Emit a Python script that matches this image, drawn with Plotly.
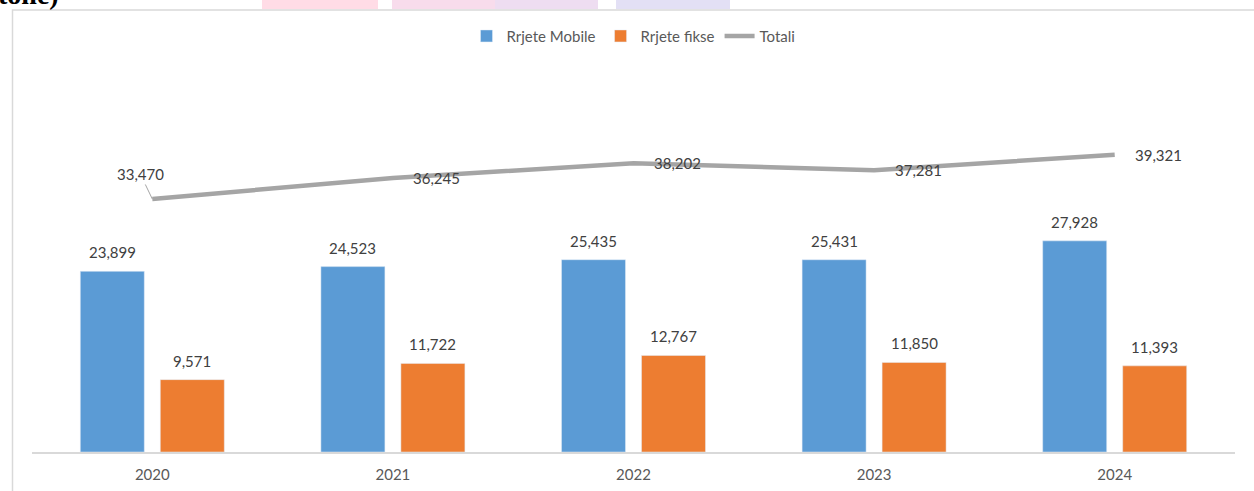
import plotly.graph_objects as go

years = ["2020", "2021", "2022", "2023", "2024"]
mobile = [23899, 24523, 25435, 25431, 27928]
fixed = [9571, 11722, 12767, 11850, 11393]
total = [33470, 36245, 38202, 37281, 39321]

blue = "#5B9BD5"
orange = "#ED7D31"
gray = "#A5A5A5"
txt = "#595959"
font = "Lato"

fig = go.Figure()
fig.add_trace(go.Bar(x=years, y=mobile, name="Rrjete Mobile", marker_color=blue))
fig.add_trace(go.Bar(x=years, y=fixed, name="Rrjete fikse", marker_color=orange))
fig.add_trace(go.Scatter(x=years, y=total, name="Totali", mode="lines",
                         line=dict(color=gray, width=4.5)))

ann = []
# bar labels (x = category index on the category axis)
for i, (m, f) in enumerate(zip(mobile, fixed)):
    ann.append(dict(x=i, y=m, text=f"{m:,}", showarrow=False, xshift=-40,
                    yanchor="bottom", yshift=8, font=dict(size=15, color="#404040")))
    ann.append(dict(x=i, y=f, text=f"{f:,}", showarrow=False, xshift=40,
                    yanchor="bottom", yshift=8, font=dict(size=15, color="#404040")))
# line labels (first one moved with leader line)
for i, t in enumerate(total):
    if i == 0:
        ann.append(dict(x=i, y=t, text=f"{t:,}", showarrow=True, ax=-12, ay=-25,
                        arrowhead=0, arrowwidth=1, arrowcolor=gray, standoff=0,
                        font=dict(size=15, color="#404040")))
    else:
        ann.append(dict(x=i, y=t, text=f"{t:,}", showarrow=False, xshift=44,
                        font=dict(size=15, color="#404040")))
# cut-off heading from the page above
ann.append(dict(xref="paper", yref="paper", x=-0.03, y=1.163, xanchor="left",
                yanchor="bottom", text="<b>tone)</b>", showarrow=False,
                font=dict(family="Liberation Serif", size=28, color="black")))

shapes = [
    dict(type="rect", xref="paper", yref="paper", x0=(262 - 32) / 1203, x1=(378 - 32) / 1203,
         y0=1.172, y1=1.25, fillcolor="#FFDCE6", line_width=0, layer="below"),
    dict(type="rect", xref="paper", yref="paper", x0=(392 - 32) / 1203, x1=(495 - 32) / 1203,
         y0=1.172, y1=1.25, fillcolor="#F8DCEC", line_width=0, layer="below"),
    dict(type="rect", xref="paper", yref="paper", x0=(495 - 32) / 1203, x1=(598 - 32) / 1203,
         y0=1.172, y1=1.25, fillcolor="#EEDDF1", line_width=0, layer="below"),
    dict(type="rect", xref="paper", yref="paper", x0=(616 - 32) / 1203, x1=(730 - 32) / 1203,
         y0=1.172, y1=1.25, fillcolor="#E3E0F5", line_width=0, layer="below"),
    # chart area border
    dict(type="rect", xref="paper", yref="paper", x0=(12.5 - 32) / 1203, x1=1.1,
         y0=-0.3, y1=(452 - 10) / 378, line=dict(color="#D9D9D9", width=1.5),
         fillcolor="rgba(0,0,0,0)", layer="below"),
]

fig.update_layout(
    width=1254, height=491,
    margin=dict(l=32, r=19, t=74, b=39, autoexpand=False),
    paper_bgcolor="white", plot_bgcolor="white",
    font=dict(family=font, size=15, color=txt),
    barmode="group", bargap=0.335, bargroupgap=0.2,
    legend=dict(orientation="h", x=0.5, xanchor="center", y=1.1, yanchor="middle",
                font=dict(size=15, color=txt), traceorder="normal"),
    xaxis=dict(type="category", range=[-0.5, 4.5], showline=True, linecolor="#D9D9D9",
               linewidth=1.5, showgrid=False, ticks="", ticklabelstandoff=8,
               tickfont=dict(size=15, color=txt)),
    yaxis=dict(range=[0, 50000], visible=False, showgrid=False),
    annotations=ann,
    shapes=shapes,
)

fig.write_html("out.html", config={"displayModeBar": False},
               post_script="document.body.style.margin='0px';")
